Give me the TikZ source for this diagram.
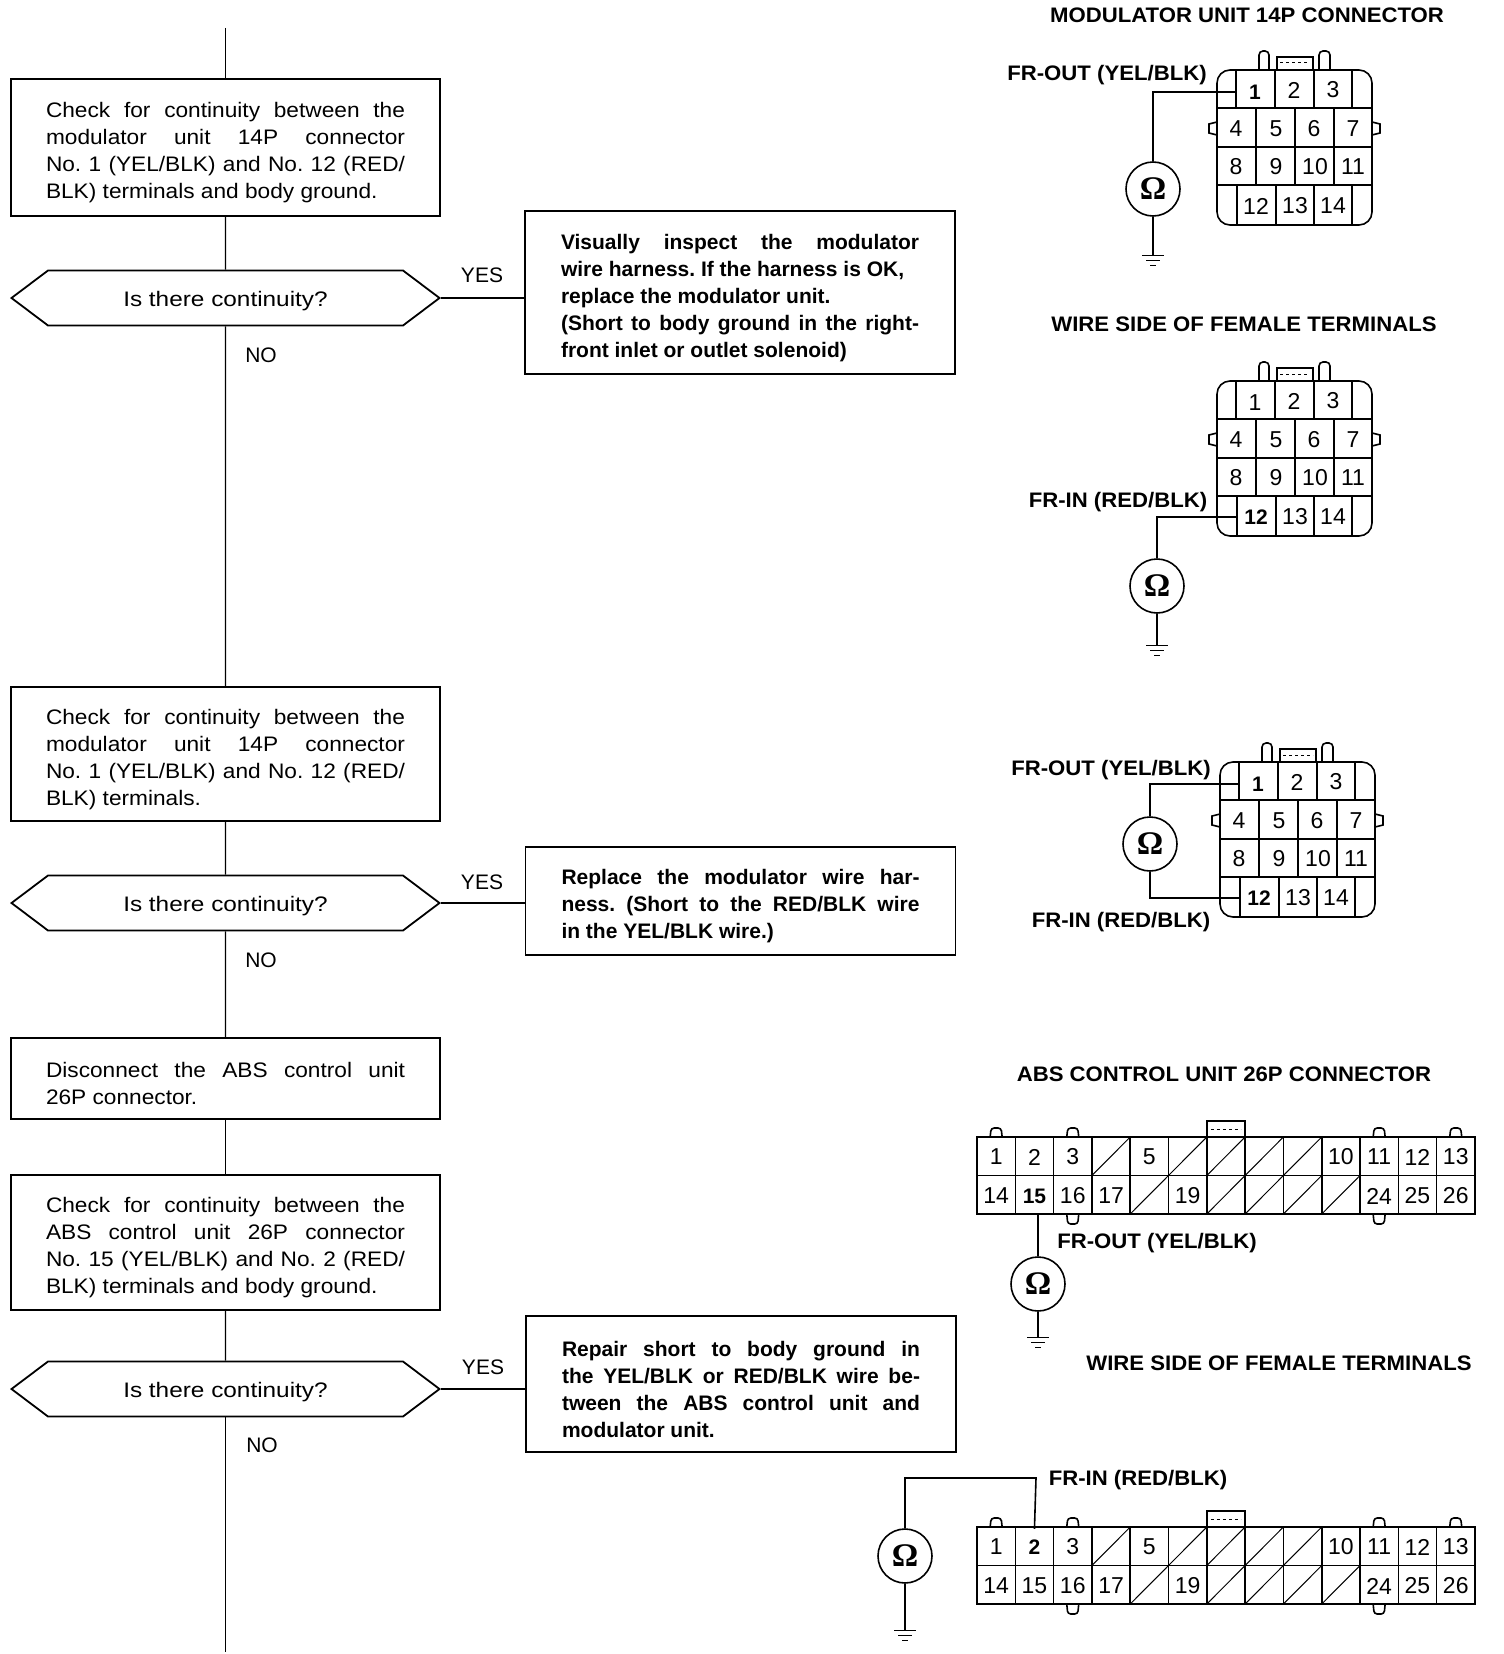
\documentclass[tikz,border=0pt]{standalone}
\usepackage{fontspec}
\usetikzlibrary{shapes.symbols}
\setmainfont{Liberation Sans}
\newfontfamily\bodyfont[FakeStretch=1.08]{Liberation Sans}
\newfontfamily\askfont[FakeStretch=1.16]{Liberation Sans}
\newfontfamily\headfont[FakeStretch=1.055]{Liberation Sans}
\newfontfamily\ohmfont{Liberation Serif}
\newcommand{\bodysize}{\bodyfont\fontsize{21}{27}\selectfont}
\newcommand{\fixsize}{\bfseries\fontsize{21}{27}\selectfont}

\tikzset{
    x=1pt, y=-1pt,
    flowline/.style={black, line width=1.3pt},
    boxline/.style={black, line width=1.8pt},
    wireline/.style={black, line width=1.6pt},
    thinline/.style={black, line width=1pt},
    stepbox/.style={boxline, draw, fill=white, inner xsep=35pt, inner ysep=0pt, text width=#1, align=justify, font=\bodysize,
        execute at begin node={\frenchspacing\tolerance=10000\hyphenpenalty=10000\rule{0pt}{26pt}}},
    stepbox/.default=359pt,
    yesbox/.style={stepbox=358pt, inner xsep=36pt, font=\fixsize},
    askbox/.style={boxline, draw, fill=white, signal, signal to=west and east, signal pointer angle=74, minimum width=428pt, minimum height=55pt, inner sep=0pt, text height=21pt, text depth=5pt, font=\askfont\fontsize{21}{21}\selectfont},
    answer/.style={font=\fontsize{21}{21}\selectfont, inner sep=0pt},
    heading/.style={font=\headfont\bfseries\fontsize{21}{21}\selectfont, inner sep=0pt},
    ohm/.style={wireline, draw, fill=white, circle, minimum size=54pt, inner sep=0pt, font=\ohmfont\bfseries\fontsize{33}{33}\selectfont},
    pinplain/.style={minimum width=38pt, minimum height=36pt, inner sep=0pt, font=\fontsize{23}{23}\selectfont},
    pinbold/.style={pinplain, font=\fontsize{21}{21}\selectfont\bfseries}
}

% 14 pin housing, #4 = style of pin 1, #5 = style of pin 12
\newcommand{\modconn}[5]{
    \begin{scope}[shift={(#2,#3)}]
        \draw[wireline, rounded corners=13pt] (0,0) rectangle (155,155);
        \draw[wireline, rounded corners=4pt] (42,0) -- (42,-19) -- (52,-19) -- (52,0);
        \draw[wireline, rounded corners=4pt] (102,0) -- (102,-19) -- (113,-19) -- (113,0);
        \draw[wireline] (60,0) -- (60,-13) -- (96,-13) -- (96,0);
        \draw[thinline, dashed] (63,-7) -- (93,-7);
        \draw[wireline] (0,52) -- (-8,54) -- (-8,63) -- (0,65);
        \draw[wireline] (155,52) -- (163,54) -- (163,63) -- (155,65);
        \draw[wireline] (0,38) -- (155,38);
        \draw[wireline] (0,77) -- (155,77);
        \draw[wireline] (0,115) -- (155,115);
        \foreach \c in {19,58,97,135} \draw[wireline] (\c,0) -- (\c,38);
        \foreach \c in {39,78,117} \draw[wireline] (\c,38) -- (\c,115);
        \foreach \c in {20,59,97,135} \draw[wireline] (\c,115) -- (\c,155);
        \node[#4] (#11) at (38,22) {1};
        \node[#5] (#112) at (39,136) {12};
        \foreach \n/\c/\r in {2/77/20,3/116/20,4/19/59,5/59/59,6/97/59,7/136/59,8/19/97,9/59/97,10/98/97,11/136/97,13/78/136,14/116/136}
            \node[pinplain] (#1\n) at (\c,\r) {\n};
    \end{scope}
}

% 26 pin housing, #4 = style of pin 2, #5 = style of pin 15
\newcommand{\absconn}[5]{
    \begin{scope}[shift={(#2,#3)}]
        \draw[wireline] (0,0) rectangle (498,77);
        \draw[wireline] (0,38.5) -- (498,38.5);
        \foreach \c in {1,...,12} \draw[wireline] ({\c*38.3},0) -- ({\c*38.3},77);
        \foreach \c in {3,5,6,7,8} \draw[thinline] ({\c*38.3},38.5) -- ++(38.3,-38.5);
        \foreach \c in {4,6,7,8,9} \draw[thinline] ({\c*38.3},77) -- ++(38.3,-38.5);
        \foreach \c in {0,2,10,12} \draw[wireline, rounded corners=3pt] ({(\c+0.5)*38.3-6},0) -- ++(1,-9) -- ++(10,0) -- ++(1,9);
        \foreach \c in {2,10} \draw[wireline, rounded corners=3pt] ({(\c+0.5)*38.3-6},77) -- ++(1,10) -- ++(10,0) -- ++(1,-10);
        \draw[wireline] ({6*38.3},0) -- ++(0,-16) -- ++(38.3,0) -- ++(0,16);
        \draw[thinline, dashed] ({6*38.3+4},-8) -- ++(30,0);
        \node[#4] (#12) at ({1.5*38.3},20) {2};
        \node[#5] (#115) at ({1.5*38.3},59) {15};
        \foreach \n/\c in {1/0,3/2,5/4,10/9,11/10,12/11,13/12}
            \node[pinplain] (#1\n) at ({(\c+0.5)*38.3},20) {\n};
        \foreach \n/\c in {14/0,16/2,17/3,19/5,24/10,25/11,26/12}
            \node[pinplain] (#1\n) at ({(\c+0.5)*38.3},59) {\n};
    \end{scope}
}

\newcommand{\gnd}[1]{
    \draw[thinline] (#1) ++(-11,0) -- ++(22,0);
    \draw[thinline] (#1) ++(-7,5) -- ++(14,0);
    \draw[thinline] (#1) ++(-3,10) -- ++(6,0);
}

\begin{document}
\begin{tikzpicture}
    \useasboundingbox (0,0) rectangle (1504,1654);

    \coordinate (start) at (225.5,28);
    \coordinate (finish) at (225.5,1652);

    \node[stepbox, minimum height=137pt] (check1) at (225.5,147.5) {Check for continuity between the\linebreak modulator unit 14P connector\linebreak No. 1 (YEL/BLK) and No. 12 (RED/\linebreak BLK) terminals and body ground.};
    \node[askbox] (ask1) at (225.5,298) {Is there continuity?};
    \node[yesbox, minimum height=163pt] (fix1) at (740,292.5) {Visually inspect the modulator\linebreak wire harness. If the harness is OK,\newline replace the modulator unit.\newline (Short to body ground in the right-\linebreak front inlet or outlet solenoid)};
    \node[answer] (yes1) at (482,275) {YES};
    \node[answer] (no1) at (261,355) {NO};

    \node[stepbox, minimum height=134pt] (check2) at (225.5,754) {Check for continuity between the\linebreak modulator unit 14P connector\linebreak No. 1 (YEL/BLK) and No. 12 (RED/\linebreak BLK) terminals.};
    \node[askbox] (ask2) at (225.5,903) {Is there continuity?};
    \node[yesbox, minimum height=108pt] (fix2) at (740.5,901) {Replace the modulator wire har-\linebreak ness. (Short to the RED/BLK wire\linebreak in the YEL/BLK wire.)};
    \node[answer] (yes2) at (482,882) {YES};
    \node[answer] (no2) at (261,960) {NO};

    \node[stepbox, minimum height=81pt] (unplug) at (225.5,1078.5) {Disconnect the ABS control unit\linebreak 26P connector.};

    \node[stepbox, minimum height=135pt] (check3) at (225.5,1242.5) {Check for continuity between the\linebreak ABS control unit 26P connector\linebreak No. 15 (YEL/BLK) and No. 2 (RED/\linebreak BLK) terminals and body ground.};
    \node[askbox] (ask3) at (225.5,1389) {Is there continuity?};
    \node[yesbox, minimum height=136pt] (fix3) at (741,1384) {Repair short to body ground in\linebreak the YEL/BLK or RED/BLK wire be-\linebreak tween the ABS control unit and\linebreak modulator unit.};
    \node[answer] (yes3) at (483,1367) {YES};
    \node[answer] (no3) at (262,1445) {NO};

    \draw[flowline] (start) -- (check1);
    \draw[flowline] (check1) -- (ask1);
    \draw[flowline] (ask1) -- (check2);
    \draw[flowline] (check2) -- (ask2);
    \draw[flowline] (ask2) -- (unplug);
    \draw[flowline] (unplug) -- (check3);
    \draw[flowline] (check3) -- (ask3);
    \draw[flowline] (ask3) -- (finish);
    \draw[flowline] (ask1.east) -- (ask1.east -| fix1.west);
    \draw[flowline] (ask2.east) -- (ask2.east -| fix2.west);
    \draw[flowline] (ask3.east) -- (ask3.east -| fix3.west);

    \node[heading] (modtitle) at (1247,15) {MODULATOR UNIT 14P CONNECTOR};
    \node[heading] (outa) at (1107,75) {FR-OUT (YEL/BLK)};
    \modconn{a}{1217}{70}{pinbold}{pinplain}
    \node[ohm] (ohma) at (1153,189) {Ω};
    \coordinate (gnda) at (1153,255);
    \draw[wireline] (a1.west) -| (ohma.north);
    \draw[wireline] (ohma.south) -- (gnda);
    \gnd{gnda}

    \node[heading] (wirea) at (1244,324) {WIRE SIDE OF FEMALE TERMINALS};
    \node[heading] (inb) at (1118,502) {FR-IN (RED/BLK)};
    \modconn{b}{1217}{381}{pinplain}{pinbold}
    \node[ohm] (ohmb) at (1157,586) {Ω};
    \coordinate (gndb) at (1157,645);
    \draw[wireline] (b12.west) -| (ohmb.north);
    \draw[wireline] (ohmb.south) -- (gndb);
    \gnd{gndb}

    \node[heading] (outc) at (1111,770) {FR-OUT (YEL/BLK)};
    \node[heading] (inc) at (1121,922) {FR-IN (RED/BLK)};
    \modconn{c}{1220}{762}{pinbold}{pinbold}
    \node[ohm] (ohmc) at (1150,844) {Ω};
    \draw[wireline] (c1.west) -| (ohmc.north);
    \draw[wireline] (c12.west) -| (ohmc.south);

    \node[heading] (abstitle) at (1224,1074) {ABS CONTROL UNIT 26P CONNECTOR};
    \absconn{d}{977}{1137}{pinplain}{pinbold}
    \node[heading] (outd) at (1157,1243) {FR-OUT (YEL/BLK)};
    \node[ohm] (ohmd) at (1038,1284) {Ω};
    \coordinate (gndd) at (1038,1337);
    \draw[wireline] (ohmd.north) -- (ohmd.north |- d15.south);
    \draw[wireline] (ohmd.south) -- (gndd);
    \gnd{gndd}

    \node[heading] (wireb) at (1279,1363) {WIRE SIDE OF FEMALE TERMINALS};
    \node[heading] (ine) at (1138,1480) {FR-IN (RED/BLK)};
    \absconn{e}{977}{1527}{pinbold}{pinplain}
    \node[ohm] (ohme) at (905,1556) {Ω};
    \coordinate (bende) at (1036,1478);
    \coordinate (gnde) at (905,1630);
    \draw[wireline] (e2.north) -- (bende) -| (ohme.north);
    \draw[wireline] (ohme.south) -- (gnde);
    \gnd{gnde}
\end{tikzpicture}
\end{document}
